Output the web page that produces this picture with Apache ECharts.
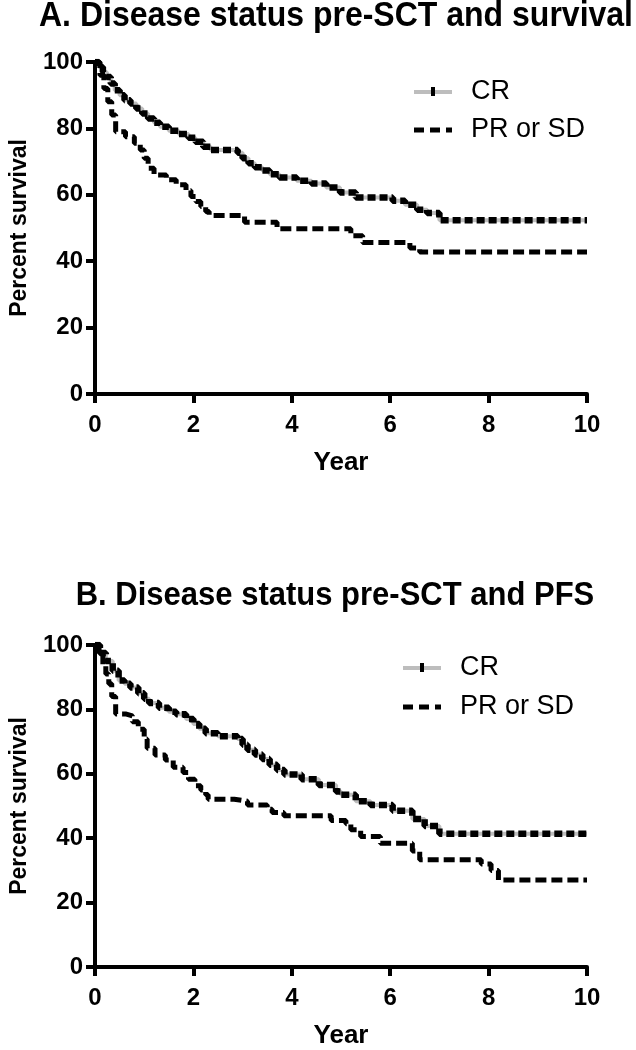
<!DOCTYPE html>
<html>
<head>
<meta charset="utf-8">
<script src="https://cdn.jsdelivr.net/npm/echarts@6/dist/echarts.min.js"></script>
<style>
html,body{margin:0;padding:0;background:#fff;}
#c{width:636px;height:1050px;}
</style>
</head>
<body>
<div id="c"></div>
<script>
// ---------- data ----------
const xTicks = [0, 2, 4, 6, 8, 10];
const yTicks = [0, 20, 40, 60, 80, 100];
const seriesNames = ['CR', 'PR or SD'];
const titleA = 'A. Disease status pre-SCT and survival';
const titleB = 'B. Disease status pre-SCT and PFS';

// Panel A: overall survival
const aCRTime = [0, 0.08, 0.16, 0.24, 0.32, 0.4, 0.5, 0.6, 0.72, 0.84, 0.96, 1.08, 1.2, 1.32, 1.5, 1.7, 1.9, 2.04, 2.2, 2.35, 2.9, 3.0, 3.12, 3.25, 3.4, 3.55, 3.75, 4.1, 4.4, 4.7, 4.98, 5.3, 6.05, 6.3, 6.55, 6.75, 7.0, 10];
const aCRSurv = [100, 98.5, 97, 95.5, 93.5, 91.5, 90, 88.5, 87.5, 86, 84.5, 83, 81.7, 80.5, 79.3, 78.3, 77.2, 76, 74.5, 73.5, 72.7, 71, 69.5, 68.3, 67.3, 66.2, 65.2, 64.2, 63.4, 62.2, 60.7, 59.2, 58.2, 57, 55.5, 54.5, 52.3, 52.3];
const aPRTime = [0, 0.1, 0.18, 0.26, 0.34, 0.42, 0.62, 0.8, 0.92, 1.0, 1.08, 1.2, 1.45, 1.65, 1.85, 1.95, 2.05, 2.15, 2.25, 2.32, 3.04, 3.7, 5.2, 5.44, 6.4, 6.6, 10];
const aPRSurv = [100, 96, 92, 88, 84, 79, 77.5, 75.5, 73.5, 71, 68, 66, 64.5, 63, 61.3, 59.5, 58, 56.5, 55, 53.8, 51.7, 49.8, 47.7, 45.6, 44, 42.8, 42.8];

// Panel B: PFS
const bCRTime = [0, 0.1, 0.22, 0.36, 0.48, 0.6, 0.72, 0.88, 1.0, 1.1, 1.3, 1.5, 1.65, 1.85, 2.0, 2.12, 2.25, 2.5, 2.9, 3.0, 3.1, 3.25, 3.4, 3.55, 3.7, 3.85, 4.2, 4.55, 4.9, 5.0, 5.3, 5.6, 6.05, 6.45, 6.7, 7.0, 10];
const bCRSurv = [100, 97.5, 95, 92, 89, 88, 86.8, 85, 83.3, 82, 80.5, 79.3, 78.5, 77, 75.5, 74, 72.6, 71.7, 70.8, 69, 67.5, 66, 64.6, 62.8, 61.2, 59.8, 58.3, 56.5, 54.5, 53.5, 51.5, 50.3, 48.5, 46, 43.8, 41.4, 41.4];
const bPRTime = [0, 0.08, 0.16, 0.22, 0.28, 0.34, 0.42, 0.62, 0.76, 0.88, 1.0, 1.06, 1.22, 1.43, 1.59, 1.79, 1.9, 2.03, 2.15, 2.25, 2.3, 2.83, 3.1, 3.5, 3.6, 3.84, 4.8, 5.1, 5.2, 5.4, 5.8, 6.45, 6.6, 7.85, 8.05, 8.2, 10];
const bPRSurv = [100, 97, 94, 91, 88, 84, 78.6, 78, 76.2, 73.8, 70.8, 67.9, 65.8, 64.3, 62, 60.4, 58.3, 56.3, 55, 53.5, 52.1, 51.5, 50.3, 49, 48, 47, 45.5, 44.5, 42.6, 40.5, 38.4, 36, 33.3, 32, 30, 27, 27];

// ---------- build ----------
const FONT = '"Liberation Sans", Arial, sans-serif';
const pair = (t, v) => t.map((x, i) => [x, v[i]]);

function xAxisCfg(gi) {
  return {
    gridIndex: gi, type: 'value', min: 0, max: 10, interval: 2,
    name: 'Year', nameLocation: 'middle', nameGap: 56,
    nameTextStyle: { fontFamily: FONT, fontWeight: 'bold', fontSize: 26, color: '#000' },
    axisLine: { show: true, onZero: false, lineStyle: { color: '#000', width: 4 } },
    axisTick: { show: true, length: 9, lineStyle: { color: '#000', width: 4 } },
    axisLabel: { fontFamily: FONT, fontWeight: 'bold', fontSize: 24, color: '#000', margin: 19,
      formatter: v => xTicks.includes(v) ? String(v) : '' },
    splitLine: { show: false }
  };
}
function yAxisCfg(gi) {
  return {
    gridIndex: gi, type: 'value', min: 0, max: 100, interval: 20,
    name: 'Percent survival', nameLocation: 'middle', nameGap: 64, nameRotate: 90,
    nameTextStyle: { fontFamily: FONT, fontWeight: 'bold', fontSize: 23, color: '#000' },
    axisLine: { show: true, onZero: false, lineStyle: { color: '#000', width: 4 } },
    axisTick: { show: true, length: 9, lineStyle: { color: '#000', width: 4 } },
    axisLabel: { fontFamily: FONT, fontWeight: 'bold', fontSize: 24, color: '#000', margin: 12,
      formatter: v => yTicks.includes(v) ? String(v) : '' },
    splitLine: { show: false }
  };
}
function crSeries(gi, t, v) {
  return [
    { name: seriesNames[0], type: 'line', step: 'end', xAxisIndex: gi, yAxisIndex: gi,
      data: pair(t, v), showSymbol: false, silent: true, z: 2,
      lineStyle: { color: '#bdbdbd', width: 4 } },
    { name: seriesNames[0] + ' censored', type: 'line', step: 'end', xAxisIndex: gi, yAxisIndex: gi,
      data: pair(t, v), showSymbol: false, silent: true, z: 3,
      lineStyle: { color: '#000', width: 6.5, type: [8, 4] } }
  ];
}
function prSeries(gi, t, v) {
  return { name: seriesNames[1], type: 'line', step: 'end', xAxisIndex: gi, yAxisIndex: gi,
    data: pair(t, v), showSymbol: false, silent: true, z: 3,
    lineStyle: { color: '#000', width: 5, type: [11, 5] } };
}
function legendGroup(x, y1, y2) {
  const ts = { fontFamily: FONT, fontSize: 27, fill: '#000', textVerticalAlign: 'middle' };
  return [
    { type: 'line', shape: { x1: x, y1: y1, x2: x + 38, y2: y1 }, style: { stroke: '#bdbdbd', lineWidth: 4 } },
    { type: 'rect', shape: { x: x + 17, y: y1 - 5, width: 4, height: 9 }, style: { fill: '#000' } },
    { type: 'text', x: x + 57, y: y1, style: Object.assign({ text: seriesNames[0] }, ts) },
    { type: 'line', shape: { x1: x, y1: y2, x2: x + 38, y2: y2 }, style: { stroke: '#000', lineWidth: 5, lineDash: [10, 6] } },
    { type: 'text', x: x + 57, y: y2, style: Object.assign({ text: seriesNames[1] }, ts) }
  ];
}

const chart = echarts.init(document.getElementById('c'), null, { renderer: 'canvas' });
chart.setOption({
  backgroundColor: '#fff',
  animation: false,
  grid: [
    { left: 89, width: 498, top: 62, height: 332 },
    { left: 89, width: 498, top: 645, height: 336 }
  ],
  xAxis: [xAxisCfg(0), xAxisCfg(1)],
  yAxis: [yAxisCfg(0), yAxisCfg(1)],
  series: [
    ...crSeries(0, aCRTime, aCRSurv), prSeries(0, aPRTime, aPRSurv),
    ...crSeries(1, bCRTime, bCRSurv), prSeries(1, bPRTime, bPRSurv)
  ],
  graphic: [
    { type: 'text', x: 336, y: 16, scaleY: 1.1, style: { text: titleA, fontFamily: FONT, fontWeight: 'bold', fontSize: 32, fill: '#000', textAlign: 'center', textVerticalAlign: 'middle' } },
    { type: 'text', x: 335, y: 596, scaleY: 1.05, style: { text: titleB, fontFamily: FONT, fontWeight: 'bold', fontSize: 31, fill: '#000', textAlign: 'center', textVerticalAlign: 'middle' } },
    ...legendGroup(414, 92, 130),
    ...legendGroup(403, 668, 707)
  ]
});
</script>
</body>
</html>
